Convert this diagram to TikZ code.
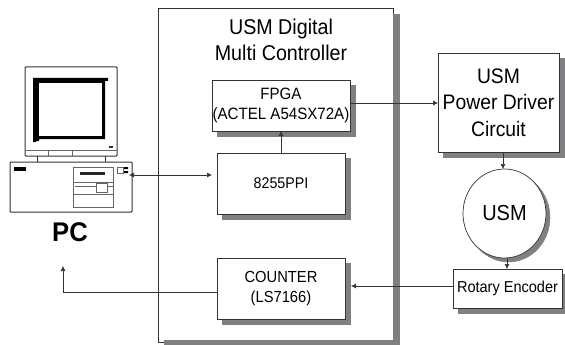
\documentclass[tikz,border=0pt]{standalone}
\usepackage{fontspec}
\setmainfont[FakeStretch=0.92]{Liberation Sans}
\newfontfamily\pcfont[FakeStretch=0.95]{Liberation Sans Bold}
\usetikzlibrary{arrows.meta,shapes.geometric}
\newcommand{\fs}[2]{\fontsize{#1}{#2}\selectfont}
\definecolor{ln}{gray}{0.2}
\definecolor{dropgrey}{RGB}{128,128,130}
\tikzset{
  blockbox/.style={draw=ln,line width=0.7pt,fill=white,inner sep=0pt,outer sep=0pt,align=center},
  dropfill/.style={fill=dropgrey,draw=dropgrey,line width=0.5pt},
  conn/.style={draw=ln,line width=0.6pt},
  tip/.style={-{Latex[length=5pt,width=5pt]}},
  pcl/.style={draw=ln,line width=1pt},
  pcg/.style={draw=black!60,line width=0.6pt},
}
\begin{document}
\begin{tikzpicture}[x=1pt,y=-1pt]
\useasboundingbox (0,0) rectangle (565,345);
% main controller box
\node[blockbox,minimum width=235pt,minimum height=334pt] (main) at (275.5,175) {};
\draw[draw=dropgrey,line width=6.5pt] (396.7,14) -- (396.7,343.5) -- (164,343.5);
\node[font=\fs{21.4}{26},align=center,inner sep=0pt] (title) at (281,40) {USM Digital\\Multi Controller};
% shadows of the blocks
\draw[dropfill] (217,85) rectangle (355,136);
\draw[dropfill] (222,158) rectangle (350,219);
\draw[dropfill] (222,263) rectangle (350,324);
\draw[dropfill] (443,58) rectangle (564.5,157);
\draw[dropfill] (508.5,217.5) ellipse [x radius=41.5,y radius=44.5];
\draw[dropfill] (458,274) rectangle (564.5,313);
% blocks
\node[blockbox,minimum width=138pt,minimum height=51pt,font=\fs{16.4}{20}] (fpga) at (281,105.5) {FPGA\\(ACTEL A54SX72A)};
\node[blockbox,minimum width=128pt,minimum height=61pt,font=\fs{15.5}{20}] (ppi) at (281,183.5) {8255PPI};
\node[blockbox,minimum width=128pt,minimum height=61pt,font=\fs{16}{20}] (counter) at (281,288.5) {COUNTER\\(LS7166)};
\node[blockbox,minimum width=121pt,minimum height=99pt,font=\fs{21}{26.5}] (driver) at (498.5,102.5) {USM\\Power Driver\\Circuit};
\node[blockbox,ellipse,minimum width=83pt,minimum height=89pt,font=\fs{21.7}{26}] (usm) at (504.5,213.5) {USM};
\node[blockbox,minimum width=109pt,minimum height=39pt,font=\fs{15.8}{20}] (rotary) at (507.5,288.5) {Rotary Encoder};
% PC monitor
\draw[pcl,rounded corners=0.8pt] (25,67) rectangle (117,156);
\fill[black] (33,78) -- (108,78) -- (108,81) -- (105,81) -- (105,139) -- (39,139) -- (39,141) -- (36,141) -- (36,142) -- (33,142) -- cycle;
\fill[white] (39,83) rectangle (102,136);
\draw[pcg,line width=0.5pt] (25,150) -- (117,150);
\draw[pcg,line width=0.5pt] (48,150) -- (48,156) (72,150) -- (72,156);
\fill[black!80] (109,145.5) rectangle (113,147.5);
\draw[pcl] (37,156) -- (37,162) (105,156) -- (105,162);
% PC case
\draw[pcl,rounded corners=0.8pt] (10,162) rectangle (132,212);
\node[fill=black,minimum width=12pt,minimum height=4pt,inner sep=0pt] (pcled) at (20,169) {};
\draw[pcg] (73,167) rectangle (113,207);
\draw[pcg] (73,182) -- (113,182) (73,194) -- (113,194) (75,186) -- (113,186);
\draw[pcg,fill=white] (96,183) rectangle (107,192);
\fill[black!85] (80,172) rectangle (105,174.5);
\draw[pcg,line width=0.5pt] (117,167) rectangle (123,173);
\fill[black] (124,167) rectangle (128,169) (124,171) rectangle (128,173);
\node[font=\fs{27}{27}\pcfont,inner sep=0pt] (pc) at (70,232) {PC};
\coordinate (pcport) at (129,175);
\coordinate (pcin) at (63,266);
% connectors
\draw[conn,tip] (ppi.north) -- (fpga.south);
\draw[conn,{Latex[length=5pt,width=5pt]}-{Latex[length=5pt,width=5pt]}] (pcport) -- ([xshift=-5pt,yshift=8.5pt]ppi.west);
\draw[conn,tip] ([yshift=2.5pt]fpga.east) -- ([yshift=-0.5pt]driver.west);
\draw[conn,tip] ([xshift=4.5pt]driver.south) -- ([xshift=-1.5pt]usm.north);
\draw[conn,tip] ([xshift=2.5pt]usm.south) -- ([xshift=-0.5pt]rotary.north);
\draw[conn,tip] ([yshift=2.5pt]rotary.west) -- ([xshift=6pt,yshift=2.5pt]counter.east);
\draw[conn,tip] ([yshift=-3.5pt]counter.west) -| (pcin);
\end{tikzpicture}
\end{document}
